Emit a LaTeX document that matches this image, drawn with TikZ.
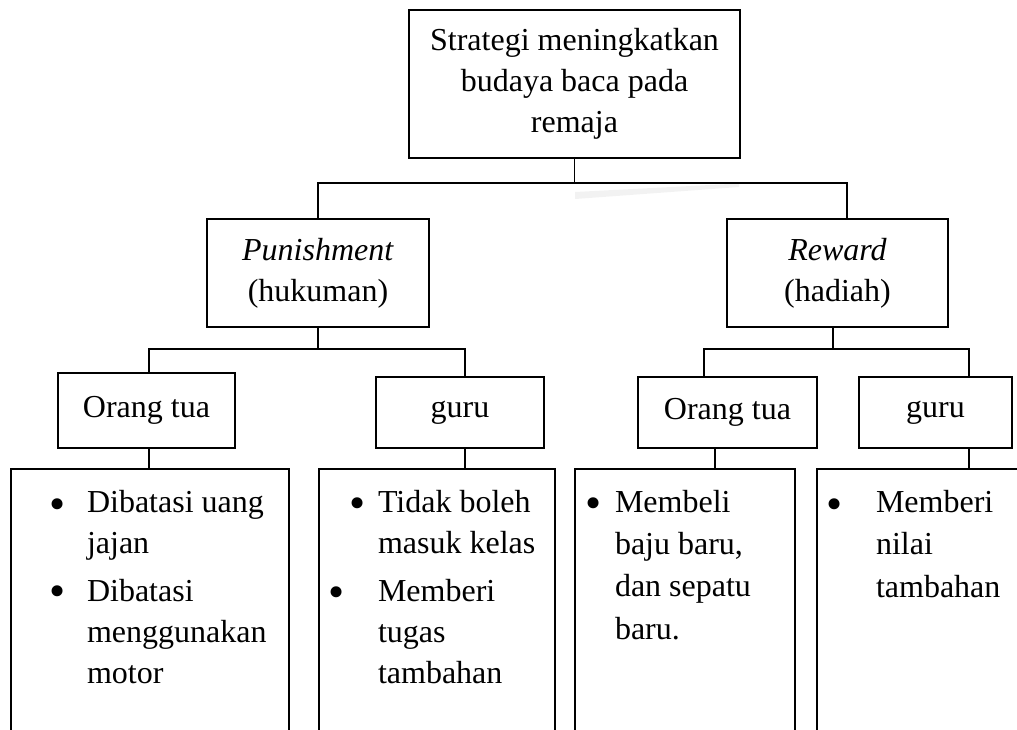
\documentclass[tikz,border=0pt]{standalone}
\usepackage{fontspec}
\setmainfont{Liberation Serif}
\usetikzlibrary{calc}
\begin{document}
\begin{tikzpicture}[x=1pt,y=-1pt,
  base/.style={inner sep=0pt,outer sep=0pt,font=\fontsize{32}{41}\selectfont},
  box/.style={base,draw,line width=1.2pt,align=center},
  small/.style={box,line width=1.7pt},
  open/.style={base,minimum height=275},
  con/.style={line width=1.4pt},
  txt/.style={base,align=left,anchor=base west},
  wide/.style={txt,font=\fontsize{32}{42.3}\selectfont},
  bul/.style={base,anchor=base west,font=\fontsize{46}{46}\selectfont}]
\useasboundingbox (0,0) rectangle (1017,729);
\clip (0,0) rectangle (1017,729);
\fill[gray!10] (575,192) -- (739,183.5) -- (739,187) -- (575,199) -- cycle;
% boxes
\node[box,minimum width=331,minimum height=148] (top) at (574.5,84) {Strategi meningkatkan\\budaya baca pada\\remaja};
\node[box,minimum width=222,minimum height=108] (pun) at (318,273) {\textit{Punishment}\\(hukuman)};
\node[box,minimum width=221,minimum height=108] (rew) at (837.5,273) {\textit{Reward}\\(hadiah)};
\node[small,minimum width=177,minimum height=75] (ot1) at (146.5,410.5) {Orang tua};
\node[small,minimum width=168,minimum height=71] (g1) at (460,412.5) {guru};
\node[small,minimum width=179,minimum height=71] (ot2) at (727.5,412.5) {Orang tua};
\node[small,minimum width=153,minimum height=71] (g2) at (935.5,412.5) {guru};
% open boxes
\node[open,minimum width=278] (b1) at (150,606.5) {};
\node[open,minimum width=236] (b2) at (437,606.5) {};
\node[open,minimum width=220] (b3) at (685,606.5) {};
\node[open,minimum width=220] (b4) at (927,606.5) {};
\foreach \b in {b1,b2,b3,b4}
  \draw[line width=1.3pt] (\b.south west) |- (\b.north east) -- (\b.south east);
% connectors
\coordinate (j0) at (574.5,183);
\draw[con] (top.south) -- (j0);
\draw[con] (pun.north) |- (j0) -| ([xshift=9.5pt]rew.north);
\draw[con] (pun.south) -- ++(0,22) coordinate (j1);
\draw[con] ([xshift=2.5pt]ot1.north) |- (j1) -| ([xshift=5pt]g1.north);
\draw[con] ([xshift=-4.5pt]rew.south) -- ++(0,22) coordinate (j2);
\draw[con] ([xshift=-23.5pt]ot2.north) |- (j2) -| ([xshift=33.5pt]g2.north);
\draw[con] ([xshift=2.5pt]ot1.south) -- ([xshift=-1pt]b1.north);
\draw[con] ([xshift=5pt]g1.south) -- ([xshift=28pt]b2.north);
\draw[con] ([xshift=-12.5pt]ot2.south) -- ([xshift=30pt]b3.north);
\draw[con] ([xshift=33.5pt]g2.south) -- ([xshift=42pt]b4.north);
% bullet texts (anchored at the baseline of their last line)
\node[bul] (u1) at (49,519.7) {•};
\node[txt] (t1) at (87,553) {Dibatasi uang\\jajan};
\node[bul] (u2) at (49,606.7) {•};
\node[txt] (t2) at (87,683) {Dibatasi\\menggunakan\\motor};
\node[bul] (u3) at (349,518.7) {•};
\node[txt] (t3) at (378,553) {Tidak boleh\\masuk kelas};
\node[bul] (u4) at (328,607.7) {•};
\node[txt] (t4) at (378,683) {Memberi\\tugas\\tambahan};
\node[bul] (u5) at (585,518.7) {•};
\node[wide] (t5) at (615,639) {Membeli\\baju baru,\\dan sepatu\\baru.};
\node[bul] (u6) at (826,519.2) {•};
\node[wide] (t6) at (876,597) {Memberi\\nilai\\tambahan};
\end{tikzpicture}
\end{document}
